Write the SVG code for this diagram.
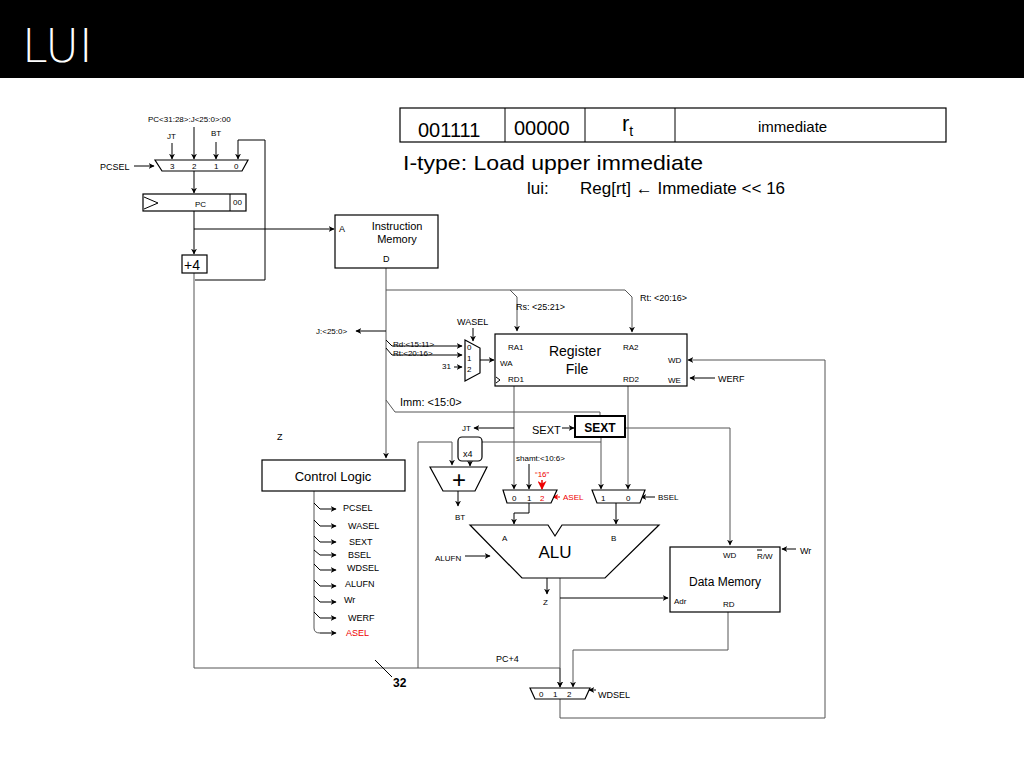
<svg xmlns="http://www.w3.org/2000/svg" width="1024" height="768" viewBox="0 0 1024 768">
<defs>
<marker id="a" viewBox="0 0 10 10" refX="9" refY="5" markerWidth="6" markerHeight="6" orient="auto"><path d="M0,0 L10,5 L0,10 L3,5z" fill="#000"/></marker>
<marker id="r" viewBox="0 0 10 10" refX="9" refY="5" markerWidth="6" markerHeight="6" orient="auto"><path d="M0,0 L10,5 L0,10 L3,5z" fill="#e00"/></marker>
<style>
text{font-family:"Liberation Sans",Arial,sans-serif;fill:#000}
.s{font-size:9px}.m{font-size:11px}.t{font-size:8px}
.b{fill:#fff;stroke:#000;stroke-width:1.2}
.l{fill:none;stroke:#000;stroke-width:1}
.g{fill:none;stroke:#555;stroke-width:1}
.red{fill:#e00}
</style>
</defs>
<rect width="1024" height="768" fill="#fff"/>
<rect width="1024" height="78" fill="#000"/>
<text x="22" y="62" style="font-size:46px;fill:#fff;font-family:'DejaVu Sans',sans-serif;font-weight:300">LUI</text>

<g id="instr">
<rect x="400" y="108" width="546" height="34" class="b"/>
<path d="M505,108V142M585,108V142M675,108V142" class="l"/>
<text x="418" y="137" style="font-size:20px">001111</text>
<text x="514" y="135" style="font-size:20px">00000</text>
<text x="622" y="131" style="font-size:22px">r<tspan dy="5" style="font-size:14px">t</tspan></text>
<text x="758" y="132" style="font-size:15px">immediate</text>
<text x="403" y="170" textLength="300" lengthAdjust="spacingAndGlyphs" style="font-size:21px">I-type: Load upper immediate</text>
<text x="527" y="194" style="font-size:17px">lui:</text>
<text x="580" y="194" style="font-size:17px">Reg[rt] ← Immediate &lt;&lt; 16</text>
</g>

<g id="connectors">
<path d="M172,143V159" class="l" marker-end="url(#a)"/>
<path d="M194,127V159" class="l" marker-end="url(#a)"/>
<path d="M216,142V159" class="l" marker-end="url(#a)"/>
<path d="M195,280H265V140H238V159" class="l" marker-end="url(#a)"/>
<path d="M194,171V193" class="l" marker-end="url(#a)"/>
<path d="M194,211V254" class="l" marker-end="url(#a)"/>
<path d="M194,229H334" class="l" marker-end="url(#a)"/>
<path d="M134,166H154" class="l" marker-end="url(#a)"/>
<path d="M194,273V668H560V687" class="g" marker-end="url(#a)"/>
<path d="M375,660L392,677" class="l"/>
<path d="M418,668V442H452V465" class="g" marker-end="url(#a)"/>
<path d="M470,461V466" class="l" marker-end="url(#a)"/>
<path d="M386,268V458" class="g" marker-end="url(#a)"/>
<path d="M386,290H510L517,297V331" class="g" marker-end="url(#a)"/>
<path d="M510,290H625L632,297V332" class="g" marker-end="url(#a)"/>
<path d="M386,331H356" class="l" marker-end="url(#a)"/>
<path d="M386,340L392,346H462" class="l" marker-end="url(#a)"/>
<path d="M386,348L392,355H462" class="l" marker-end="url(#a)"/>
<path d="M454,367H462" class="l" marker-end="url(#a)"/>
<path d="M473,328V341" class="l" marker-end="url(#a)"/>
<path d="M480,360H494" class="l" marker-end="url(#a)"/>
<path d="M386,400L395,412H600V416" class="g"/>
<path d="M625,428H730V545" class="g" marker-end="url(#a)"/>
<path d="M601,437V489" class="g" marker-end="url(#a)"/>
<path d="M601,442H482" class="g"/>
<path d="M562,428H574" class="l" marker-end="url(#a)"/>
<path d="M514,386V489" class="g" marker-end="url(#a)"/>
<path d="M514,428H474" class="l" marker-end="url(#a)"/>
<path d="M628,386V489" class="g" marker-end="url(#a)"/>
<path d="M529,464V489" class="l" marker-end="url(#a)"/>
<path d="M542,480V489" stroke="#e00" fill="none" stroke-width="1.5" marker-end="url(#r)"/>
<path d="M560,497H553" stroke="#e00" fill="none" marker-end="url(#r)"/>
<path d="M655,497H641" class="l" marker-end="url(#a)"/>
<path d="M458,491V506" class="l" marker-end="url(#a)"/>
<path d="M529,503V513H514V524" class="l" marker-end="url(#a)"/>
<path d="M616,503V524" class="l" marker-end="url(#a)"/>
<path d="M465,556H490" class="l" marker-end="url(#a)"/>
<path d="M547,578V594" class="l" marker-end="url(#a)"/>
<path d="M560,578V687" class="g" marker-end="url(#a)"/>
<path d="M560,598H668" class="l" marker-end="url(#a)"/>
<path d="M728,612V650H573V687" class="g" marker-end="url(#a)"/>
<path d="M796,549H782" class="l" marker-end="url(#a)"/>
<path d="M596,690H589" class="l" marker-end="url(#a)"/>
<path d="M560,699V718H825V360H688" class="g" marker-end="url(#a)"/>
<path d="M715,378H690" class="l" marker-end="url(#a)"/>
<path d="M314,491V628Q314,633 320,633" class="g"/>
<path d="M314,503L320,509H336" class="l" marker-end="url(#a)"/>
<path d="M314,520L320,526H336" class="l" marker-end="url(#a)"/>
<path d="M314,536L320,542H336" class="l" marker-end="url(#a)"/>
<path d="M314,550L320,555H336" class="l" marker-end="url(#a)"/>
<path d="M314,564L320,570H336" class="l" marker-end="url(#a)"/>
<path d="M314,580L320,586H336" class="l" marker-end="url(#a)"/>
<path d="M314,596L320,602H336" class="l" marker-end="url(#a)"/>
<path d="M314,612L320,618H336" class="l" marker-end="url(#a)"/>
<path d="M320,633H336" class="l" marker-end="url(#a)"/>
</g>

<g id="pcmux">
<path d="M155,160H248L242,171H162Z" class="b"/>
<text x="170" y="169" class="t">3</text><text x="192" y="169" class="t">2</text><text x="214" y="169" class="t">1</text><text x="234" y="169" class="t">0</text>
<text x="100" y="170" class="s">PCSEL</text>
<text x="148" y="122" class="t">PC&lt;31:28&gt;:J&lt;25:0&gt;:00</text>
<text x="167" y="139" class="t">JT</text><text x="211" y="136" class="t">BT</text>
</g>
<g id="pc">
<rect x="143" y="194" width="103" height="17" class="b"/>
<path d="M230,194V211M144,197L158,203L144,209" class="l"/>
<text x="195" y="207" class="t">PC</text><text x="233" y="205" class="t">00</text>
</g>
<g id="plus4"><rect x="182" y="255" width="25" height="18" class="b"/><text x="184" y="270" style="font-size:14px">+4</text></g>
<text x="393" y="687" style="font-size:12px;font-weight:bold">32</text>

<g id="imem">
<rect x="335" y="215" width="103" height="53" class="b"/>
<text x="397" y="230" class="m" text-anchor="middle">Instruction</text>
<text x="397" y="243" class="m" text-anchor="middle">Memory</text>
<text x="339" y="232" class="s">A</text><text x="383" y="262" class="s">D</text>
</g>

<text x="516" y="310" class="s">Rs: &lt;25:21&gt;</text>
<text x="640" y="301" class="s">Rt: &lt;20:16&gt;</text>
<text x="316" y="334" class="t">J:&lt;25:0&gt;</text>
<text x="393" y="347" class="t">Rd:&lt;15:11&gt;</text>
<text x="393" y="356" class="t">Rt:&lt;20:16&gt;</text>
<text x="442" y="369" class="t">31</text>
<text x="457" y="325" class="s">WASEL</text>

<g id="wamux">
<path d="M465,340L480,348V373L465,381Z" class="b"/>
<text x="467" y="350" class="t">0</text><text x="467" y="361" class="t">1</text><text x="467" y="372" class="t">2</text>
</g>

<g id="regfile">
<rect x="495" y="334" width="192" height="52" class="b"/>
<text x="575" y="356" text-anchor="middle" style="font-size:14px">Register</text>
<text x="577" y="374" text-anchor="middle" style="font-size:14px">File</text>
<text x="508" y="350" class="t">RA1</text><text x="623" y="350" class="t">RA2</text>
<text x="500" y="366" class="t">WA</text><text x="668" y="363" class="t">WD</text>
<text x="508" y="382" class="t">RD1</text><text x="623" y="382" class="t">RD2</text>
<text x="668" y="383" class="t">WE</text>
<path d="M496,377L500,380L496,383" class="l"/>
</g>
<text x="718" y="382" class="s">WERF</text>
<text x="400" y="406" class="m">Imm: &lt;15:0&gt;</text>

<g id="sext"><rect x="575" y="416" width="50" height="21" fill="#fff" stroke="#000" stroke-width="2"/><text x="600" y="432" text-anchor="middle" style="font-size:12px;font-weight:bold">SEXT</text></g>
<text x="532" y="434" class="m">SEXT</text>
<text x="462" y="431" class="t">JT</text>

<g id="x4"><rect x="458" y="437" width="24" height="24" rx="4" class="b"/><text x="463" y="457" class="s">x4</text></g>
<g id="adder"><path d="M430,467H487L475,491H443Z" class="b"/><text x="459" y="488" text-anchor="middle" style="font-size:24px">+</text></g>
<text x="455" y="520" class="t">BT</text>

<text x="516" y="461" class="t">shamt:&lt;10:6&gt;</text>
<text x="535" y="477" class="t red">“16”</text>
<g id="amux">
<path d="M503,490H557L551,503H507Z" class="b"/>
<text x="512" y="501" class="t">0</text><text x="527" y="501" class="t">1</text><text x="540" y="501" class="t red">2</text>
</g>
<text x="563" y="500" class="t red">ASEL</text>
<g id="bmux">
<path d="M592,490H645L640,503H597Z" class="b"/>
<text x="601" y="501" class="t">1</text><text x="626" y="501" class="t">0</text>
</g>
<text x="658" y="500" class="t">BSEL</text>

<g id="alu">
<path d="M470,525H548L555,536L562,525H659L605,578H522Z" class="b"/>
<text x="502" y="541" class="t">A</text><text x="611" y="541" class="t">B</text>
<text x="555" y="558" text-anchor="middle" style="font-size:17px">ALU</text>
</g>
<text x="435" y="561" class="t">ALUFN</text>
<text x="543" y="605" class="t">Z</text>

<g id="dmem">
<rect x="670" y="547" width="110" height="65" class="b"/>
<text x="723" y="558" class="t">WD</text>
<text x="757" y="559" class="t">R/W</text><path d="M757,550H762" class="l"/>
<text x="725" y="586" text-anchor="middle" style="font-size:12px">Data Memory</text>
<text x="674" y="604" class="t">Adr</text><text x="723" y="607" class="t">RD</text>
</g>
<text x="800" y="554" class="s">Wr</text>

<g id="wdmux">
<path d="M530,688H590L585,699H535Z" class="b"/>
<text x="539" y="697" class="t">0</text><text x="553" y="697" class="t">1</text><text x="567" y="697" class="t">2</text>
</g>
<text x="598" y="698" class="s">WDSEL</text>
<text x="496" y="662" class="s">PC+4</text>

<g id="control">
<rect x="262" y="460" width="143" height="31" class="b"/>
<text x="333" y="481" text-anchor="middle" style="font-size:13px">Control Logic</text>
</g>
<text x="277" y="440" class="s">Z</text>
<g>
<text x="343" y="511" class="s">PCSEL</text><text x="348" y="529" class="s">WASEL</text><text x="349" y="545" class="s">SEXT</text>
<text x="348" y="558" class="s">BSEL</text><text x="347" y="571" class="s">WDSEL</text><text x="345" y="587" class="s">ALUFN</text>
<text x="344" y="603" class="s">Wr</text><text x="348" y="621" class="s">WERF</text><text x="346" y="636" class="s red">ASEL</text>
</g>
</svg>
